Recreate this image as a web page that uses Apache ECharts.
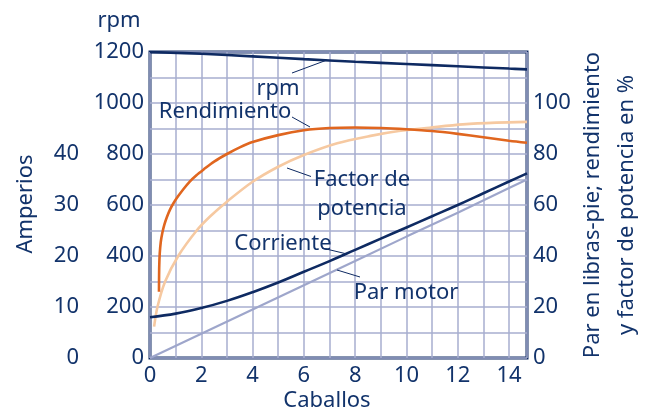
<!DOCTYPE html>
<html>
<head>
<meta charset="utf-8">
<script src="https://cdn.jsdelivr.net/npm/echarts@6/dist/echarts.min.js"></script>
<style>
  html, body { margin: 0; padding: 0; background: #ffffff; }
  #chart { width: 645px; height: 415px; }
</style>
</head>
<body>
<div id="chart"></div>
<script>
// Motor performance curves against output horsepower (caballos)

// Speed, rpm (left inner axis)
const rpmHp = [0, 2, 4, 6, 8, 10, 12, 14, 14.7];
const rpmVal = [1200, 1193, 1183, 1172, 1162, 1153, 1144, 1135, 1132];

// Efficiency, % (right axis)
const rendHp = [0.35, 0.352, 0.36, 0.38, 0.42, 0.48, 0.56, 0.66, 0.78, 0.92, 1.1, 1.3, 1.55, 1.8, 2.1, 2.5, 3, 3.5, 4, 5, 6, 7, 8, 9, 10, 11, 12, 13, 14, 14.7];
const rendVal = [26, 30, 36, 41, 45.5, 49, 52.3, 55.3, 58.2, 60.8, 63.5, 66.2, 69.2, 71.6, 74, 77, 80, 82.6, 84.7, 87.4, 89.3, 90.2, 90.4, 90.2, 89.7, 89, 87.9, 86.6, 85.2, 84.4];

// Power factor, % (right axis)
const fpHp = [0.16, 0.29, 0.59, 1.1, 1.82, 2.34, 3, 4, 5, 6, 7.3, 8.6, 9.7, 10.9, 12.2, 13.5, 14.7];
const fpVal = [12.3, 20, 30, 40, 50, 55.5, 61.3, 69.1, 75, 79.6, 84.2, 87.1, 89, 90.3, 91.6, 92.3, 92.6];

// Current, amperes (left outer axis)
const corrHp = [0, 1, 2, 3, 4, 5, 6, 7, 8, 9, 10, 11, 12, 13, 14, 14.7];
const corrVal = [8.0, 8.7, 9.8, 11.2, 12.9, 14.8, 16.9, 19.0, 21.2, 23.4, 25.6, 27.8, 30.0, 32.3, 34.6, 36.2];

// Torque, lb-ft (right axis)
const parHp = [0, 2, 4, 6, 8, 10, 12, 14, 14.7];
const parVal = [0, 9.5, 19, 28.5, 38, 47.6, 57, 66.7, 70];

// Axis ranges and tick steps
const hpMax = 14.7;
const rpmMax = 1200, rpmStep = 100, rpmLabelStep = 200;
const pctMax = 120, pctStep = 20, pctLabelMax = 100;
const ampMax = 60, ampStep = 10, ampLabelMax = 40;

const pairs = (xs, ys) => xs.map((x, i) => [x, ys[i]]);

const ink = '#12336b';
const navy = '#0e2a62';
const gridLine = '#a7aecf';
const font = 'Noto Sans';

const chart = echarts.init(document.getElementById('chart'), null, { renderer: 'canvas' });

const labelStyle = { color: ink, fontSize: 22, fontFamily: font };

chart.setOption({
  animation: false,
  backgroundColor: '#ffffff',
  grid: {
    left: 150, right: 118, top: 52, bottom: 57,
    show: true, borderColor: navy, borderWidth: 3, backgroundColor: 'transparent'
  },
  xAxis: {
    type: 'value', min: 0, max: hpMax, interval: 1,
    axisLine: { show: false }, axisTick: { show: false },
    splitLine: { show: true, lineStyle: { color: gridLine, width: 1.5 } },
    axisLabel: Object.assign({}, labelStyle, {
      margin: 7, showMaxLabel: false,
      formatter: v => (v % 2 === 0 ? String(v) : '')
    })
  },
  yAxis: [
    {
      type: 'value', position: 'left', min: 0, max: rpmMax, interval: rpmStep,
      axisLine: { show: false }, axisTick: { show: false },
      splitLine: { show: true, lineStyle: { color: gridLine, width: 1.5 } },
      axisLabel: Object.assign({}, labelStyle, {
        margin: 6, formatter: v => (v % rpmLabelStep === 0 ? String(v) : '')
      })
    },
    {
      type: 'value', position: 'right', min: 0, max: pctMax, interval: pctStep,
      axisLine: { show: false }, axisTick: { show: false }, splitLine: { show: false },
      axisLabel: Object.assign({}, labelStyle, {
        margin: 6, formatter: v => (v <= pctLabelMax ? String(v) : '')
      })
    },
    {
      type: 'value', position: 'left', offset: 65, min: 0, max: ampMax, interval: ampStep,
      axisLine: { show: false }, axisTick: { show: false }, splitLine: { show: false },
      axisLabel: Object.assign({}, labelStyle, {
        margin: 6, formatter: v => (v <= ampLabelMax ? String(v) : '')
      })
    }
  ],
  series: [
    {
      name: 'Par motor', type: 'line', yAxisIndex: 1, showSymbol: false, smooth: false,
      lineStyle: { color: '#9ea6cb', width: 2.2 }, data: pairs(parHp, parVal)
    },
    {
      name: 'Factor de potencia', type: 'line', yAxisIndex: 1, showSymbol: false, smooth: 0.3,
      lineStyle: { color: '#f6c9a1', width: 2.6 }, data: pairs(fpHp, fpVal)
    },
    {
      name: 'Rendimiento', type: 'line', yAxisIndex: 1, showSymbol: false, smooth: 0.3,
      lineStyle: { color: '#e0661f', width: 2.6 }, data: pairs(rendHp, rendVal)
    },
    {
      name: 'Corriente', type: 'line', yAxisIndex: 2, showSymbol: false, smooth: 0.4,
      lineStyle: { color: navy, width: 2.6 }, data: pairs(corrHp, corrVal)
    },
    {
      name: 'rpm', type: 'line', yAxisIndex: 0, showSymbol: false, smooth: 0.4,
      lineStyle: { color: navy, width: 2.6 }, data: pairs(rpmHp, rpmVal)
    }
  ],
  graphic: [
    // axis titles
    { type: 'text', x: 119, y: 21, style: { text: 'rpm', fill: ink, fontSize: 22, fontFamily: font, textAlign: 'center', textVerticalAlign: 'middle' } },
    { type: 'text', x: 26, y: 204, rotation: Math.PI / 2, style: { text: 'Amperios', fill: ink, fontSize: 22, fontFamily: font, textAlign: 'center', textVerticalAlign: 'middle' } },
    { type: 'text', x: 327, y: 401, style: { text: 'Caballos', fill: ink, fontSize: 22, fontFamily: font, textAlign: 'center', textVerticalAlign: 'middle' } },
    { type: 'text', x: 610, y: 205, rotation: Math.PI / 2, style: { text: 'Par en libras-pie; rendimiento\ny factor de potencia en %', fill: ink, fontSize: 22, lineHeight: 34, fontFamily: font, textAlign: 'center', textVerticalAlign: 'middle' } },
    // curve callouts
    { type: 'text', x: 278, y: 89, z: 10, style: { text: 'rpm', fill: ink, fontSize: 22, fontFamily: font, textAlign: 'center', textVerticalAlign: 'middle' } },
    { type: 'line', z: 10, shape: { x1: 292, y1: 73, x2: 327, y2: 60 }, style: { stroke: navy, lineWidth: 1 } },
    { type: 'text', x: 225, y: 112, z: 10, style: { text: 'Rendimiento', fill: ink, fontSize: 22, fontFamily: font, textAlign: 'center', textVerticalAlign: 'middle' } },
    { type: 'line', z: 10, shape: { x1: 292, y1: 117, x2: 310, y2: 127 }, style: { stroke: navy, lineWidth: 1 } },
    { type: 'text', x: 362, y: 194, z: 10, style: { text: 'Factor de\npotencia', fill: ink, fontSize: 22, lineHeight: 29, fontFamily: font, textAlign: 'center', textVerticalAlign: 'middle' } },
    { type: 'line', z: 10, shape: { x1: 287, y1: 168, x2: 311, y2: 176.5 }, style: { stroke: navy, lineWidth: 1 } },
    { type: 'text', x: 283, y: 244, z: 10, style: { text: 'Corriente', fill: ink, fontSize: 22, fontFamily: font, textAlign: 'center', textVerticalAlign: 'middle' } },
    { type: 'line', z: 10, shape: { x1: 322, y1: 248, x2: 345, y2: 253.5 }, style: { stroke: navy, lineWidth: 1 } },
    { type: 'text', x: 406, y: 293, z: 10, style: { text: 'Par motor', fill: ink, fontSize: 22, fontFamily: font, textAlign: 'center', textVerticalAlign: 'middle' } },
    { type: 'line', z: 10, shape: { x1: 337, y1: 270, x2: 360, y2: 277 }, style: { stroke: navy, lineWidth: 1 } }
  ]
});
</script>
</body>
</html>
